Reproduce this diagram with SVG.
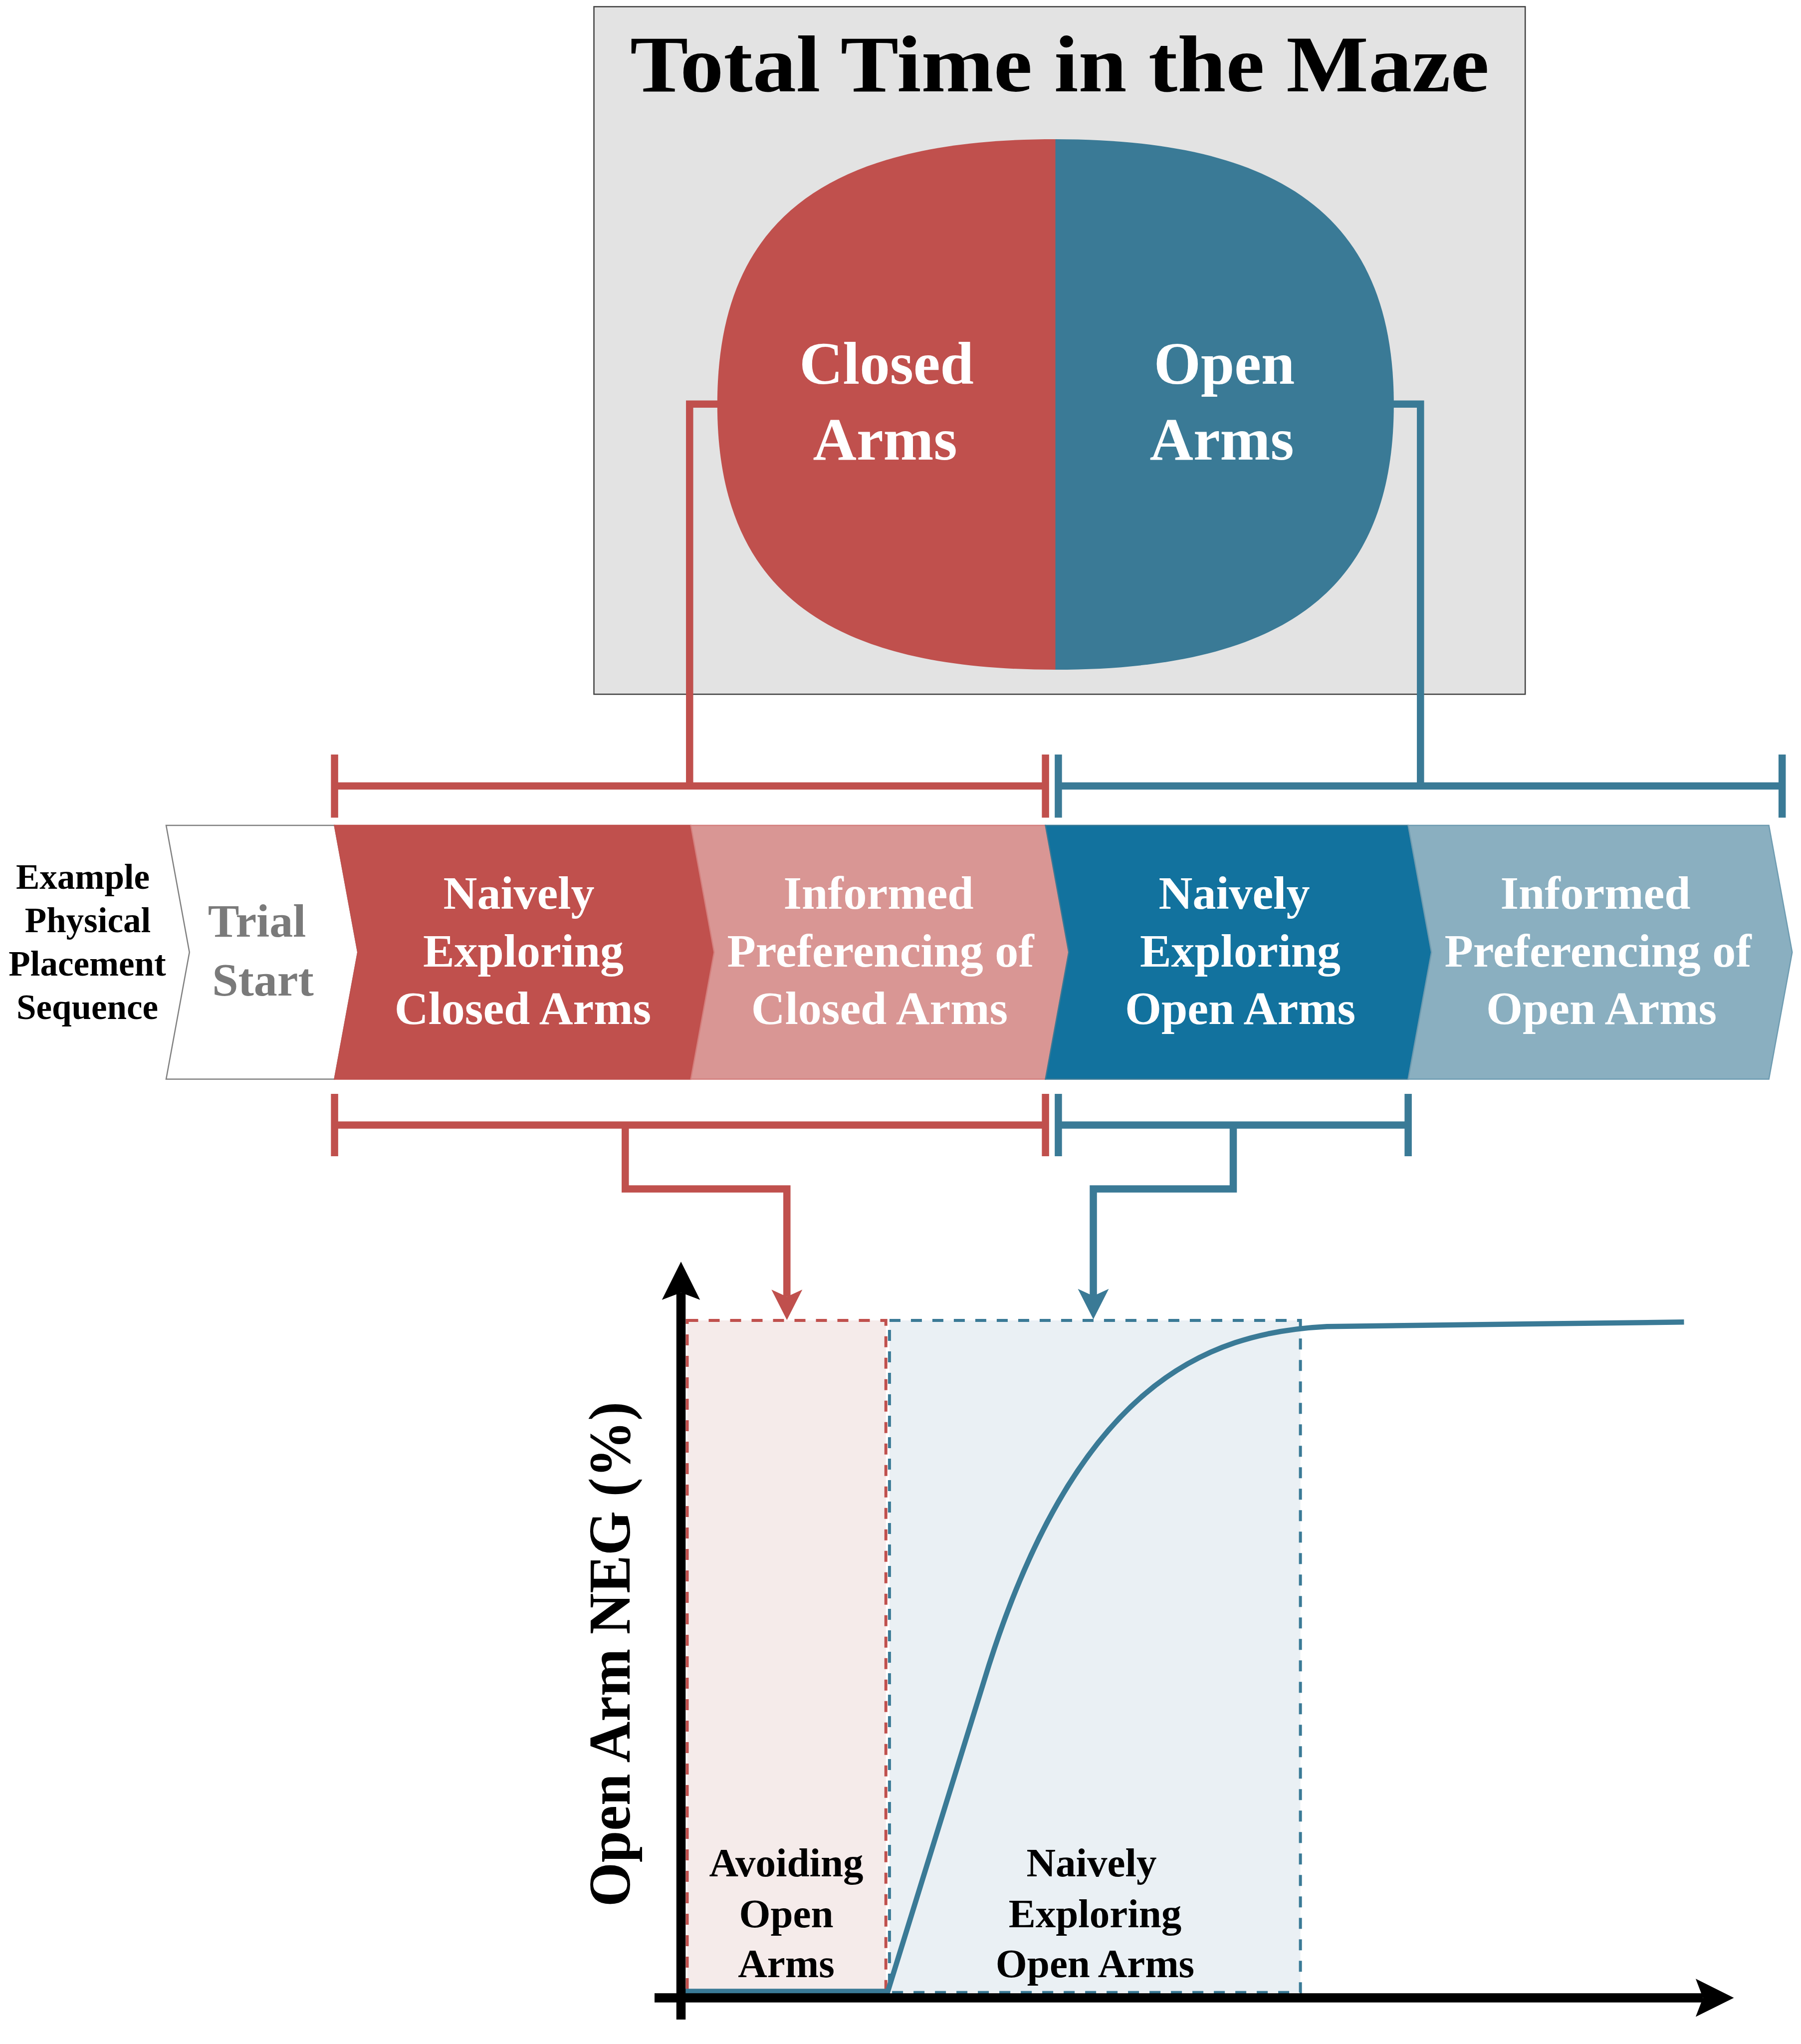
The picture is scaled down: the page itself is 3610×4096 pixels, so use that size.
<svg xmlns="http://www.w3.org/2000/svg" width="3610" height="4096" viewBox="0 0 3610 4096">
<style>
.t{font-family:"Liberation Serif","Times New Roman",serif;font-weight:bold;text-anchor:middle}
.w{fill:#ffffff}
.k{fill:#000000}
.g{fill:#7a7a7a}
.red{stroke:#c0504d;fill:none;stroke-width:14.5}
.blue{stroke:#3a7a96;fill:none;stroke-width:14.5}
.chev{stroke-width:2.5}
</style>
<defs>
<marker id="arrRed" markerUnits="userSpaceOnUse" viewBox="-50 -50 100 100" markerWidth="100" markerHeight="100" refX="0" refY="0" orient="auto" overflow="visible">
<path d="M46.7,0 L-14.3,-31 L0,0 L-14.3,31 Z" fill="#c0504d"/>
</marker>
<marker id="arrBlue" markerUnits="userSpaceOnUse" viewBox="-50 -50 100 100" markerWidth="100" markerHeight="100" refX="0" refY="0" orient="auto" overflow="visible">
<path d="M46.7,0 L-14.3,-31 L0,0 L-14.3,31 Z" fill="#3a7a96"/>
</marker>
<marker id="arrBlack" markerUnits="userSpaceOnUse" viewBox="-50 -50 130 100" markerWidth="130" markerHeight="100" refX="0" refY="0" orient="auto" overflow="visible">
<path d="M62,0 L-14.6,-38.2 L0,0 L-14.6,38.2 Z" fill="#000000"/>
</marker>
</defs>
<rect width="3610" height="4096" fill="#ffffff"/>

<g id="total-time">
<rect x="1190.5" y="13.4" width="1866.7" height="1377.8" fill="#e3e3e3" stroke="#404040" stroke-width="2.5"/>
<text class="t k" x="2124" y="183" font-size="162" textLength="1722" lengthAdjust="spacingAndGlyphs">Total Time in the Maze</text>
</g>

<g id="closed-arms">
<path d="M2116,278.9 C1649.5,278.9 1437.8,444.9 1437.8,810.5 C1437.8,1176.1 1649.5,1342 2116,1342 Z" fill="#c0504d"/>
<text class="t w" x="1777" y="769" font-size="121">Closed</text>
<text class="t w" x="1774" y="921" font-size="121">Arms</text>
</g>

<g id="open-arms">
<path d="M2115.5,278.9 C2582.1,278.9 2793.8,444.9 2793.8,810.5 C2793.8,1176.1 2582.1,1342 2115.5,1342 Z" fill="#3a7a96"/>
<text class="t w" x="2454" y="769" font-size="121">Open</text>
<text class="t w" x="2449" y="921" font-size="121">Arms</text>
</g>

<g id="sequence-label">
<text class="t k" x="166" y="1781" font-size="71">Example</text>
<text class="t k" x="176" y="1868" font-size="71">Physical</text>
<text class="t k" x="175" y="1955" font-size="71">Placement</text>
<text class="t k" x="175" y="2042" font-size="71">Sequence</text>
</g>

<g id="trial-start">
<path class="chev" d="M333,1654 L670.6,1654 L717.3,1908.2 L670.6,2162.5 L333,2162.5 L379.7,1908.2 Z" fill="#ffffff" stroke="#808080"/>
<text class="t g" x="515" y="1877" font-size="94">Trial</text>
<text class="t g" x="527" y="1995" font-size="94">Start</text>
</g>

<g id="naive-closed">
<path class="chev" d="M670.6,1654 L1384.7,1654 L1431.4,1908.2 L1384.7,2162.5 L670.6,2162.5 L717.3,1908.2 Z" fill="#c0504d" stroke="#c0504d"/>
<text class="t w" x="1040" y="1821" font-size="94">Naively</text>
<text class="t w" x="1049" y="1937" font-size="94">Exploring</text>
<text class="t w" x="1048" y="2052" font-size="94">Closed Arms</text>
</g>

<g id="informed-closed">
<path class="chev" d="M1384.7,1654 L2095.6,1654 L2142.3,1908.2 L2095.6,2162.5 L1384.7,2162.5 L1431.4,1908.2 Z" fill="#d99694" stroke="#d47f7d"/>
<text class="t w" x="1761" y="1821" font-size="94">Informed</text>
<text class="t w" x="1765" y="1937" font-size="94">Preferencing of</text>
<text class="t w" x="1763" y="2052" font-size="94">Closed Arms</text>
</g>

<g id="naive-open">
<path class="chev" d="M2095.6,1654 L2822.6,1654 L2869.3,1908.2 L2822.6,2162.5 L2095.6,2162.5 L2142.3,1908.2 Z" fill="#12729e" stroke="#3a7a96"/>
<text class="t w" x="2474" y="1821" font-size="94">Naively</text>
<text class="t w" x="2486" y="1937" font-size="94">Exploring</text>
<text class="t w" x="2486" y="2052" font-size="94">Open Arms</text>
</g>

<g id="informed-open">
<path class="chev" d="M2822.6,1654 L3545.6,1654 L3592.3,1908.2 L3545.6,2162.5 L2822.6,2162.5 L2869.3,1908.2 Z" fill="#8aafc0" stroke="#6f9cb1"/>
<text class="t w" x="3198" y="1821" font-size="94">Informed</text>
<text class="t w" x="3203" y="1937" font-size="94">Preferencing of</text>
<text class="t w" x="3210" y="2052" font-size="94">Open Arms</text>
</g>

<g id="neg-chart">
<rect x="1377.5" y="2646" width="398.2" height="1346.8" fill="#f5ebea" stroke="#c0504d" stroke-width="6" stroke-dasharray="22 21"/>
<rect x="1782.9" y="2646" width="823.7" height="1346.8" fill="#eaf0f4" stroke="#3a7a96" stroke-width="6" stroke-dasharray="22 21"/>
<path d="M1367,3990.5 L1779.6,3990.5 L1971.5,3371.5 C2152.8,2773 2418,2670.3 2659.8,2658.2 C2901.6,2654.2 3143.4,2650.1 3375.5,2649.3" fill="none" stroke="#3a7a96" stroke-width="10.5"/>
<path d="M1365,4047 V2590.2" stroke="#000000" stroke-width="18.5" fill="none" marker-end="url(#arrBlack)"/>
<path d="M1312,4003.4 H3413.5" stroke="#000000" stroke-width="18.5" fill="none" marker-end="url(#arrBlack)"/>
<text class="t k" x="1576" y="3760" font-size="81">Avoiding</text>
<text class="t k" x="1576" y="3861.5" font-size="81">Open</text>
<text class="t k" x="1576" y="3961.5" font-size="81">Arms</text>
<text class="t k" x="2188" y="3760" font-size="81">Naively</text>
<text class="t k" x="2195" y="3861.5" font-size="81">Exploring</text>
<text class="t k" x="2195" y="3961.5" font-size="81">Open Arms</text>
<text class="t k" transform="translate(1262,3315) rotate(-90)" x="0" y="0" font-size="118" textLength="1012" lengthAdjust="spacingAndGlyphs">Open Arm NEG (%)</text>
</g>

<g id="connectors">
<path class="red" d="M1446,809.7 H1382.3 V1575"/>
<path class="blue" d="M2786,809.7 H2847.3 V1575"/>
<path class="red" d="M670.6,1512 V1638.6 M670.6,1575 H2095.6 M2095.6,1512 V1638.6"/>
<path class="blue" d="M2121.4,1512 V1638.6 M2121.4,1575 H3572.2 M3572.2,1512 V1638.6"/>
<path class="red" d="M670.6,2192 V2317 M670.6,2254.4 H2095.6 M2095.6,2192 V2317"/>
<path class="blue" d="M2121.4,2192 V2317 M2121.4,2254.4 H2822.6 M2822.6,2192 V2317"/>
<path class="red" d="M1253.3,2254.4 V2382.5 H1577.3 V2598.6" marker-end="url(#arrRed)"/>
<path class="blue" d="M2472,2254.4 V2382.5 H2191.5 V2597" marker-end="url(#arrBlue)"/>
</g>
</svg>
